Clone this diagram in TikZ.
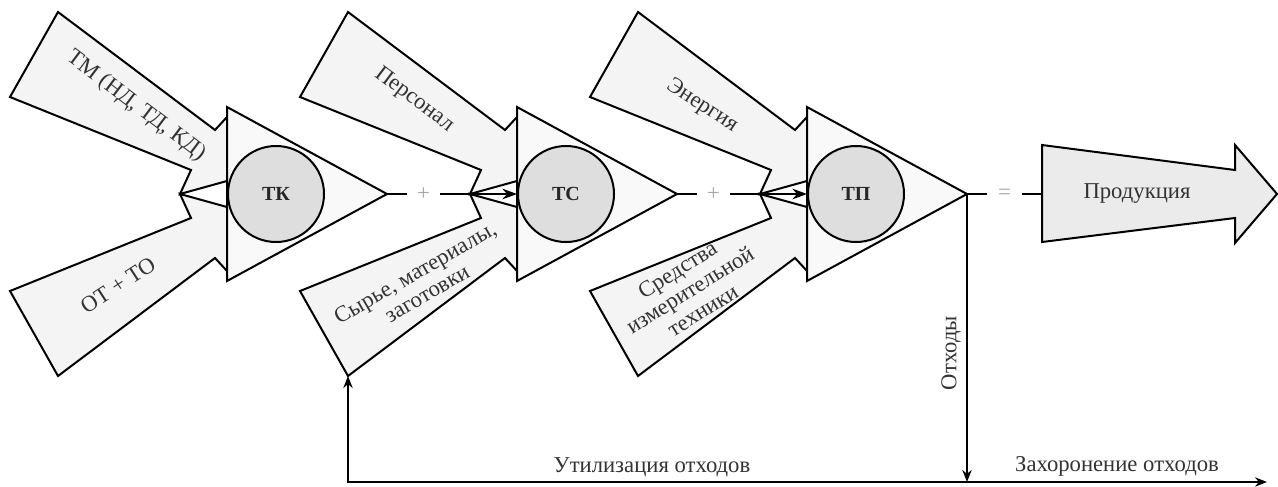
\documentclass[tikz,border=0pt]{standalone}
\usepackage{fontspec}
\setmainfont{Liberation Serif}
\usetikzlibrary{arrows.meta,calc}
\tikzset{
  inarrow/.style={draw=black, fill=gray!9, line width=1.5pt, line join=miter},
  tri/.style={draw=black, fill=gray!5, line width=1.5pt, line join=miter},
  prodarrow/.style={draw=black, fill=gray!16, line width=1.5pt, line join=miter},
  core/.style={circle, draw=black, fill=gray!26, line width=1.5pt, minimum size=72pt, inner sep=0pt,
    font=\fontsize{15pt}{17pt}\selectfont\bfseries, text=black!85},
  lbl/.style={text=black!80, font=\fontsize{17pt}{18pt}\selectfont, align=center, inner sep=0pt},
  sym/.style={text=gray!70, font=\fontsize{17pt}{18pt}\selectfont, inner sep=0pt, minimum height=10pt},
  flow/.style={draw=black, line width=1.5pt},
  tip/.style={-{Stealth[length=9pt,width=7pt]}},
  bigtip/.style={-{Stealth[length=11pt,width=8pt]}},
}
\begin{document}
\begin{tikzpicture}[x=0.75pt,y=-0.75pt]
\useasboundingbox (0,0) rectangle (1278,486);

% three process units
\foreach \i/\nm/\lab in {0/k/ТК,1/s/ТС,2/p/ТП}{
  \begin{scope}[xshift=\i*217.5pt]
    \draw[inarrow] (58,12) -- (215,130) -- (227,117) -- (227,181) -- (180,194) -- (191,170) -- (10,97) -- cycle;
    \draw[inarrow] (10,291) -- (191,218) -- (180,194) -- (227,207) -- (227,271) -- (215,258) -- (58,376) -- cycle;
    \draw[tri] (227,107) -- (227,281) -- (387,194) -- cycle;
    \coordinate (apex\nm) at (387,194);
    \coordinate (left\nm) at (227,194);
    \coordinate (tail\nm) at (58,376);
    \node[core] (c\nm) at (276,194) {\lab};
  \end{scope}
}

% input labels
\node[lbl, rotate=-37] (tm) at (136,106) {ТМ (НД, ТД, КД)};
\node[lbl, rotate=33] (ot) at (118,285) {ОТ + ТО};
\node[lbl, rotate=-37] (pers) at (414,100) {Персонал};
\node[lbl, rotate=30] (raw) at (421,283) {Сырье, материалы,\\заготовки};
\node[lbl, rotate=-33] (energy) at (702,106) {Энергия};
\node[lbl, rotate=32] (meas) at (690,290) {Средства\\измерительной\\техники};

% connectors between units
\node[sym, minimum width=24.75pt] (plus1) at (423.5,194) {+};
\node[sym, minimum width=24.75pt] (plus2) at (713.5,194) {+};
\draw[flow] (apexk) -- (plus1);
\draw[flow, bigtip] (plus1) -- (lefts);
\draw[flow] (apexs) -- (plus2);
\draw[flow, bigtip] (plus2) -- (leftp);

% product
\draw[prodarrow] (1042,145) -- (1235,170) -- (1235,145) -- (1277,194) -- (1235,243) -- (1235,218) -- (1042,242) -- cycle;
\coordinate (prodleft) at (1042,194);
\node[lbl] (prod) at (1137,194) {Продукция};
\node[sym, minimum width=26pt] (eq) at (1004.5,194) {=};
\draw[flow] (apexp) -- (eq);
\draw[flow] (eq) -- (prodleft);

% waste
\coordinate (waste) at (967,482);
\coordinate (burial) at (1267,482);
\draw[flow, tip] (apexp) -- (waste);
\draw[flow, tip] (waste) -| (tails);
\draw[flow, tip] (waste) -- (burial);
\node[lbl, rotate=90] (wlab) at (951,353) {Отходы};
\node[lbl] (util) at (652,467) {Утилизация отходов};
\node[lbl] (bur) at (1117,466) {Захоронение отходов};
\end{tikzpicture}
\end{document}
